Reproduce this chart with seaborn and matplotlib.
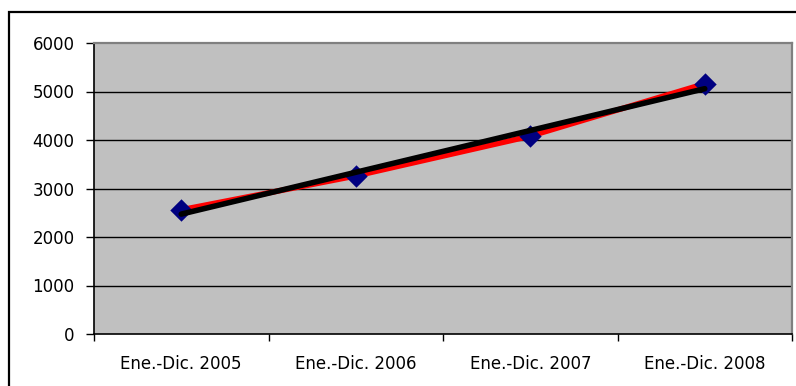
import matplotlib
matplotlib.use("Agg")
import matplotlib.pyplot as plt
from matplotlib.patches import Rectangle
from matplotlib.ticker import FixedLocator, NullFormatter, FixedFormatter
import numpy as np
import pandas as pd
import seaborn as sns

periods = ["Ene.-Dic. 2005", "Ene.-Dic. 2006", "Ene.-Dic. 2007", "Ene.-Dic. 2008"]
values = [2560, 3260, 4080, 5160]
y_ticks = [0, 1000, 2000, 3000, 4000, 5000, 6000]

sns.set_theme(style="white")
plt.rcParams["font.family"] = ["DejaVu Sans"]

df = pd.DataFrame({"pos": np.arange(len(periods)), "periodo": periods, "valor": values})

fig = plt.figure(figsize=(7.96, 3.86), dpi=100)
ax = fig.add_axes([94 / 796, 1 - 334 / 386, (792 - 94) / 796, (334 - 43) / 386])
ax.set_facecolor("#C0C0C0")

# outer chart frame (runs off the right and bottom edges)
fig.patches.append(Rectangle((9 / 796, -0.05), 1.0, 1 - 12 / 386 + 0.05,
                             transform=fig.transFigure, fill=False,
                             edgecolor="black", linewidth=1.6, clip_on=False))

for t in y_ticks[1:-1]:
    ax.axhline(t, color="black", lw=1.0, zorder=1)

sns.lineplot(data=df, x="pos", y="valor", color="red", lw=4, ax=ax, zorder=3)
sns.scatterplot(data=df, x="pos", y="valor", marker="D", s=130, color="#000080",
                edgecolor="#000080", linewidth=0, ax=ax, zorder=4)
sns.regplot(data=df, x="pos", y="valor", ci=None, scatter=False, truncate=True,
            line_kws={"color": "black", "lw": 4, "zorder": 5}, ax=ax)

ax.set_xlim(-0.5, len(periods) - 0.5)
ax.set_ylim(0, 6000)
ax.set_xlabel("")
ax.set_ylabel("")

ax.yaxis.set_major_locator(FixedLocator(y_ticks))
ax.tick_params(axis="y", which="major", direction="out", length=6, width=1,
               color="black", left=True, labelsize=12, pad=8, labelcolor="black")

ax.xaxis.set_major_locator(FixedLocator(np.arange(len(periods) + 1) - 0.5))
ax.xaxis.set_major_formatter(NullFormatter())
ax.xaxis.set_minor_locator(FixedLocator(np.arange(len(periods))))
ax.xaxis.set_minor_formatter(FixedFormatter(periods))
ax.tick_params(axis="x", which="major", direction="out", length=5, width=1,
               color="black", bottom=True)
ax.tick_params(axis="x", which="minor", length=0, labelsize=12, pad=15,
               labelcolor="black")

for side in ["left", "bottom"]:
    ax.spines[side].set_color("black")
    ax.spines[side].set_linewidth(1.2)
for side in ["top", "right"]:
    ax.spines[side].set_color("#808080")
    ax.spines[side].set_linewidth(1.6)
    ax.spines[side].set_visible(True)

fig.savefig("out.png", dpi=100, facecolor="white")
